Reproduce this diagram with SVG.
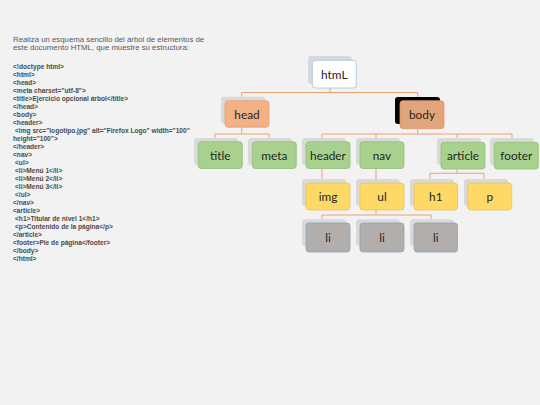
<svg xmlns="http://www.w3.org/2000/svg" width="540" height="405" viewBox="0 0 540 405">
<style>
.bg{fill:#f2f2f2}
.intro{font-family:"Liberation Sans",Arial,sans-serif;font-size:7.8px;fill:#595959}
.code{font-family:"Liberation Sans",Arial,sans-serif;font-size:6.6px;font-weight:bold;fill:#4a4a4a}
.sh{fill:#d9d9d9}
.lbl{font-family:Lato,"Liberation Sans",sans-serif;font-size:11.8px;fill:#262626;text-anchor:middle;dominant-baseline:central}
.white{fill:#ffffff;stroke:#9dc3e6;stroke-width:0.8}
.orange{fill:#f4b183;stroke:#e4a273;stroke-width:0.8}
.body{fill:#e2a47a;stroke:#d99a6e;stroke-width:0.8}
.green{fill:#a9d18e;stroke:#93bd78;stroke-width:0.8}
.yellow{fill:#ffd966;stroke:#e6c25a;stroke-width:0.8}
.grey{fill:#b1aeac;stroke:#8ea2b8;stroke-width:0.8}
.con{fill:none;stroke:#f0a070;stroke-width:1}
</style>
<rect class="bg" x="0" y="0" width="540" height="405"/>
<g id="intro">
<text class="intro" x="13" y="41.5">Realiza un esquema sencillo del árbol de elementos de</text>
<text class="intro" x="13" y="50">este documento HTML, que muestre su estructura:</text>
</g>
<g id="code" class="code">
<text x="13" y="68.5">&lt;!doctype html&gt;</text>
<text x="13" y="76.5">&lt;html&gt;</text>
<text x="13" y="84.5">&lt;head&gt;</text>
<text x="13" y="92.5">&lt;meta charset="utf-8"&gt;</text>
<text x="13" y="100.5">&lt;title&gt;Ejercicio opcional árbol&lt;/title&gt;</text>
<text x="13" y="108.5">&lt;/head&gt;</text>
<text x="13" y="116.5">&lt;body&gt;</text>
<text x="13" y="124.5">&lt;header&gt;</text>
<text x="15" y="132.5">&lt;img src="logotipo.jpg" alt="Firefox Logo" width="100"</text>
<text x="13" y="140.5">height="100"&gt;</text>
<text x="13" y="148.5">&lt;/header&gt;</text>
<text x="13" y="156.5">&lt;nav&gt;</text>
<text x="15" y="164.5">&lt;ul&gt;</text>
<text x="15" y="172.5">&lt;li&gt;Menú 1&lt;/li&gt;</text>
<text x="15" y="180.5">&lt;li&gt;Menú 2&lt;/li&gt;</text>
<text x="15" y="188.5">&lt;li&gt;Menú 3&lt;/li&gt;</text>
<text x="15" y="196.5">&lt;/ul&gt;</text>
<text x="13" y="204.5">&lt;/nav&gt;</text>
<text x="13" y="212.5">&lt;article&gt;</text>
<text x="15" y="220.5">&lt;h1&gt;Titular de nivel 1&lt;/h1&gt;</text>
<text x="15" y="228.5">&lt;p&gt;Contenido de la página&lt;/p&gt;</text>
<text x="13" y="236.5">&lt;/article&gt;</text>
<text x="13" y="244.5">&lt;footer&gt;Pie de página&lt;/footer&gt;</text>
<text x="13" y="252.5">&lt;/body&gt;</text>
<text x="13" y="260.5">&lt;/html&gt;</text>
</g>
<g id="connectors" class="con">
<path d="M330 88V92.5M241.7 96.7V92.5H417.7V97"/>
<path d="M241.7 127V134M215 138V134H269V138"/>
<path d="M417.7 129V134M322 138V134H512V138M376 134V138M457 134V138"/>
<path d="M322 169V179"/>
<path d="M376 169V179"/>
<path d="M457 169V173.3M430 179V173.3H484V179"/>
<path d="M376 210V215M322 219V215H431V219"/>
</g>
<g id="node-html"><rect class="sh" x="308" y="56" width="44" height="28" rx="3"/><rect class="white" x="312.3" y="60.3" width="44" height="27.7" rx="3"/><text class="lbl" x="334.3" y="74.2">htmL</text></g>
<g id="node-head"><rect class="sh" x="221" y="96.7" width="44" height="27" rx="3"/><rect class="orange" x="225" y="100.7" width="44" height="26.5" rx="3"/><text class="lbl" x="247" y="114">head</text></g>
<g id="node-body"><rect fill="#000000" x="395" y="97" width="45" height="27" rx="3"/><rect class="body" x="400" y="100.7" width="44" height="28" rx="3"/><text class="lbl" x="422" y="114.7">body</text></g>
<g id="node-title"><rect class="sh" x="194" y="138" width="44" height="27" rx="3"/><rect class="green" x="198.3" y="141.8" width="44" height="26.7" rx="3"/><text class="lbl" x="220.3" y="155.2">title</text></g>
<g id="node-meta"><rect class="sh" x="248" y="138" width="44" height="27" rx="3"/><rect class="green" x="252.3" y="141.8" width="44" height="26.7" rx="3"/><text class="lbl" x="274.3" y="155.2">meta</text></g>
<g id="node-header"><rect class="sh" x="302" y="138" width="44" height="27" rx="3"/><rect class="green" x="306" y="141.8" width="44" height="26.7" rx="3"/><text class="lbl" x="328" y="155.2">header</text></g>
<g id="node-nav"><rect class="sh" x="356" y="138" width="44" height="27" rx="3"/><rect class="green" x="360" y="141.8" width="44" height="26.7" rx="3"/><text class="lbl" x="382" y="155.2">nav</text></g>
<g id="node-article"><rect class="sh" x="437" y="138" width="44" height="27" rx="3"/><rect class="green" x="441" y="142.3" width="44" height="26.7" rx="3"/><text class="lbl" x="463" y="155.6">article</text></g>
<g id="node-footer"><rect class="sh" x="490" y="138" width="44" height="27" rx="3"/><rect class="green" x="494.3" y="142.3" width="44" height="26.7" rx="3"/><text class="lbl" x="516.3" y="155.6">footer</text></g>
<g id="node-img"><rect class="sh" x="302" y="179" width="44" height="27" rx="3"/><rect class="yellow" x="306" y="183" width="44" height="27" rx="3"/><text class="lbl" x="328" y="196.5">img</text></g>
<g id="node-ul"><rect class="sh" x="356" y="179" width="44" height="27" rx="3"/><rect class="yellow" x="360" y="183" width="44" height="27" rx="3"/><text class="lbl" x="382" y="196.5">ul</text></g>
<g id="node-h1"><rect class="sh" x="410" y="179" width="44" height="27" rx="3"/><rect class="yellow" x="414" y="183" width="43.5" height="27" rx="3"/><text class="lbl" x="435.8" y="196.5">h1</text></g>
<g id="node-p"><rect class="sh" x="464" y="179" width="44" height="27" rx="3"/><rect class="yellow" x="467.7" y="183" width="44" height="27" rx="3"/><text class="lbl" x="489.7" y="196.5">p</text></g>
<g id="node-li1"><rect class="sh" x="302" y="219.3" width="44" height="27" rx="3"/><rect class="grey" x="306" y="223" width="44" height="29" rx="3"/><text class="lbl" x="328" y="237.5">li</text></g>
<g id="node-li2"><rect class="sh" x="356" y="219.3" width="44" height="27" rx="3"/><rect class="grey" x="360" y="223" width="44" height="29" rx="3"/><text class="lbl" x="382" y="237.5">li</text></g>
<g id="node-li3"><rect class="sh" x="410" y="219.3" width="44" height="27" rx="3"/><rect class="grey" x="414" y="223" width="43.5" height="29" rx="3"/><text class="lbl" x="435.8" y="237.5">li</text></g>
</svg>
